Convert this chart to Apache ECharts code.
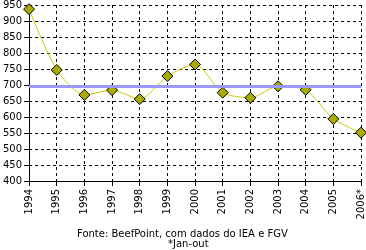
<!DOCTYPE html>
<html><head><meta charset="utf-8">
<script src="https://cdn.jsdelivr.net/npm/echarts@6/dist/echarts.min.js"></script>
<style>html,body{margin:0;padding:0;background:#fff}#c{width:366px;height:250px}</style>
</head><body><div id="c"></div>
<script>
const categories = ['1994','1995','1996','1997','1998','1999','2000','2001','2002','2003','2004','2005','2006*'];
const values = [937,747,669,684,656,728,764,676,660,696,685,594,551];
const averageValue = [697];
const yTicks = {min:400, max:950, interval:50};
const sourceText = 'Fonte: BeefPoint, com dados do IEA e FGV';
const noteText = '*Jan-out';

const chart = echarts.init(document.getElementById('c'), null, {renderer:'canvas'});
const font = 'DejaVu Sans, Verdana, sans-serif';
chart.setOption({
  animation:false,
  grid:{left:27, right:5, top:4, bottom:69},
  xAxis:{type:'category', data:categories, boundaryGap:false,
    axisLine:{lineStyle:{color:'#000', width:1}},
    axisTick:{show:true, length:5, alignWithLabel:true, lineStyle:{color:'#000'}},
    axisLabel:{rotate:90, color:'#000', fontSize:10, fontFamily:font, margin:8, interval:0},
    splitLine:{show:true, lineStyle:{color:'#000', type:[3,3], width:1}}
  },
  yAxis:{type:'value', min:yTicks.min, max:yTicks.max, interval:yTicks.interval,
    axisLine:{show:true, lineStyle:{color:'#000', width:1}},
    axisTick:{show:true, length:5, lineStyle:{color:'#000'}},
    axisLabel:{color:'#000', fontSize:10, fontFamily:font, margin:7},
    splitLine:{show:true, lineStyle:{color:'#000', type:[3,3], width:1}}
  },
  series:[{
    type:'line', data:values, smooth:0.25,
    lineStyle:{color:'#c8c800', width:1},
    symbol:'diamond', symbolSize:11,
    itemStyle:{color:'#aaaa00', borderColor:'#000', borderWidth:1},
    markLine:{silent:true, symbol:'none', label:{show:false},
      lineStyle:{color:'#9999ff', width:3, type:'solid'},
      data:[{yAxis:averageValue[0]}]},
    z:3
  }],
  graphic:[
    {type:'text', left:77, top:229, style:{text:sourceText, font:'10px '+font, fill:'#000'}},
    {type:'text', left:168, top:239, style:{text:noteText, font:'10px '+font, fill:'#000'}}
  ]
});
</script></body></html>
